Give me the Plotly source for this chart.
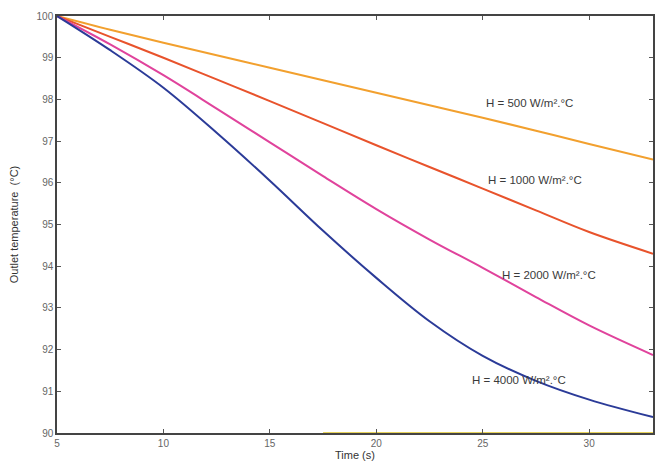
import plotly.graph_objects as go

time = [5, 7.5, 10, 12.5, 15, 17.5, 20, 22.5, 25, 27.5, 30, 33]
t_500 = [100, 99.67, 99.36, 99.06, 98.76, 98.46, 98.16, 97.86, 97.56, 97.25, 96.93, 96.56]
t_1000 = [100, 99.50, 99.00, 98.48, 97.96, 97.43, 96.90, 96.38, 95.86, 95.34, 94.82, 94.30]
t_2000 = [100, 99.32, 98.58, 97.78, 96.97, 96.16, 95.37, 94.64, 93.96, 93.26, 92.58, 91.87]
t_4000 = [100, 99.18, 98.28, 97.20, 96.05, 94.85, 93.72, 92.68, 91.85, 91.25, 90.80, 90.38]
base_x = [17.5, 33]
base_y = [90, 90]

labels = ["H = 500 W/m².°C", "H = 1000 W/m².°C", "H = 2000 W/m².°C", "H = 4000 W/m².°C"]
label_x = [27.2, 27.45, 28.1, 26.7]
label_y = [97.91, 96.07, 93.79, 91.27]

series = [t_500, t_1000, t_2000, t_4000]
colors = ["#f2a02e", "#e8532c", "#e0439c", "#2b3b98"]

font_fam = "Liberation Sans, Arial, sans-serif"

fig = go.Figure()
fig.add_trace(go.Scatter(x=base_x, y=base_y, mode="lines",
                         line=dict(color="#e6d25a", width=2), hoverinfo="skip"))
for ys, c in zip(series, colors):
    fig.add_trace(go.Scatter(x=time, y=ys, mode="lines",
                             line=dict(color=c, width=2, shape="spline", smoothing=1.0)))

for t, x, y in zip(labels, label_x, label_y):
    fig.add_annotation(x=x, y=y, text=t, showarrow=False,
                       font=dict(size=11.5, color="#3a3a3a", family=font_fam))

axis_common = dict(showgrid=False, zeroline=False, showline=True, linecolor="#444",
                   linewidth=1.5, mirror="ticks", ticks="inside", ticklen=4,
                   tickcolor="#555", automargin=False,
                   tickfont=dict(size=10, color="#666", family=font_fam))

fig.update_xaxes(range=[5, 33], tickvals=[5, 10, 15, 20, 25, 30],
                 title=dict(text="Time (s)", standoff=4,
                            font=dict(size=11, color="#333", family=font_fam)),
                 **axis_common)
fig.update_yaxes(range=[90, 100], tickvals=list(range(90, 101)),
                 title=dict(text="Outlet temperature  (°C)", standoff=16,
                            font=dict(size=11, color="#333", family=font_fam)),
                 **axis_common)

fig.update_layout(width=665, height=464, showlegend=False,
                  margin=dict(l=57, r=12, t=16, b=31),
                  paper_bgcolor="white", plot_bgcolor="white")

fig.write_html("out.html")
